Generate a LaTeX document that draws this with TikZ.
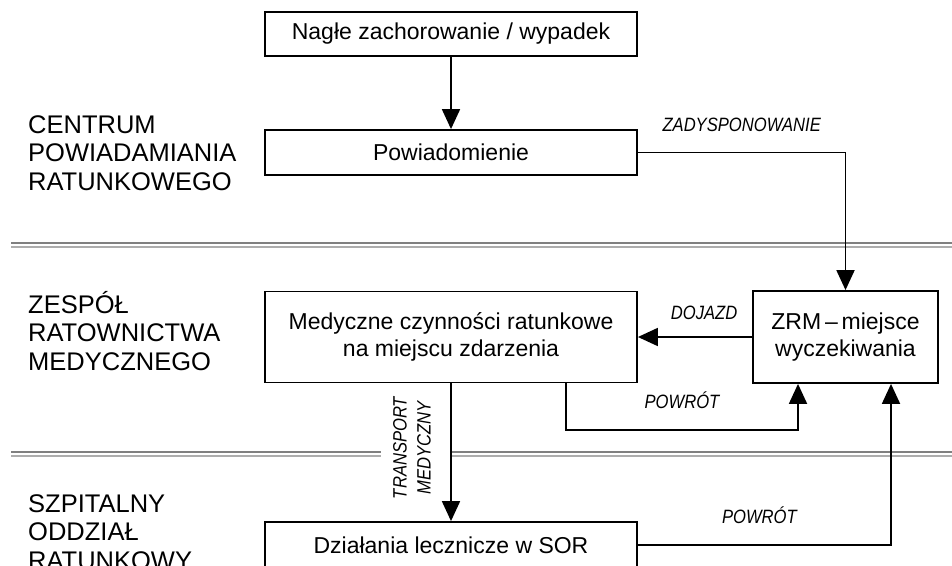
\documentclass[tikz,border=0pt]{standalone}
\usepackage{fontspec}
\setmainfont{Liberation Sans}
\newfontfamily\narrowfont[FakeStretch=0.86]{Liberation Sans}
\usetikzlibrary{arrows.meta,positioning}

\tikzset{
  box/.style={draw, line width=1.8pt, minimum width=372pt, align=center,
    font=\fontsize{23}{27}\selectfont, inner sep=0pt},
  arr/.style={line width=1.8pt, -{Triangle[length=20pt,width=18pt]}},
  lbl/.style={font=\narrowfont\fontsize{19.3}{24}\selectfont\itshape, align=center},
  side/.style={font=\fontsize{25.5}{28.5}\selectfont, align=left,
    anchor=base west, inner sep=0pt},
  sepdark/.style={line width=1.5pt, black!50},
  seplight/.style={line width=1.5pt, black!32}
}

\begin{document}
\begin{tikzpicture}[x=1pt,y=-1pt]
    \useasboundingbox (0,0) rectangle (952,565);

    % separators between the three levels
    \draw[sepdark] (11,243) -- (952,243);
    \draw[seplight] (11,247) -- (952,247);
    \draw[sepdark] (11,452) -- (381,452);
    \draw[seplight] (11,456) -- (381,456);
    \draw[sepdark] (451,452) -- (952,452);
    \draw[seplight] (451,456) -- (952,456);

    % base anchor sits on the last line
    \node[side] (cprlabel) at (28,190) {CENTRUM\\POWIADAMIANIA\\RATUNKOWEGO};
    \node[side] (zrmlabel) at (28,370) {ZESPÓŁ\\RATOWNICTWA\\MEDYCZNEGO};
    \node[side] (sorlabel) at (28,569) {SZPITALNY\\ODDZIAŁ\\RATUNKOWY};

    \node[box, minimum height=44pt] (nagle) at (451,34) {Nagłe zachorowanie / wypadek};
    \node[box, minimum height=45pt] (powiad) at (451,152.5) {Powiadomienie};
    \node[box, minimum height=91pt] (medyczne) at (451,337) {Medyczne czynności ratunkowe\\na miejscu zdarzenia};
    \node[box, minimum width=185pt, minimum height=92pt] (zrm) at (845.5,337) {ZRM\,–\,miejsce\\wyczekiwania};
    \node[box, minimum height=46pt] (dzialania) at (451,545) {Działania lecznicze w SOR};
    \coordinate (back) at (798,430);

    \draw[arr] (nagle) -- (powiad);
    \draw[arr] (powiad.east) -| (zrm.north) node[lbl, pos=0.25, above=17pt] {ZADYSPONOWANIE};
    \draw[arr] (zrm.west) -- (medyczne.east) node[lbl, pos=0.42, above=13pt] {DOJAZD};
    \draw[arr] ([xshift=115pt]medyczne.south) |- (back) node[lbl, pos=0.75, above=16.7pt] {POWRÓT} -- (back |- zrm.south);
    \draw[arr] (medyczne.south) -- (dzialania.north);
    \node[lbl, rotate=90] (transport) at (412,448) {TRANSPORT\\MEDYCZNY};
    \draw[arr] (dzialania.east) -| ([xshift=45.5pt]zrm.south) node[lbl, pos=0.24, above=16.7pt] {POWRÓT};
\end{tikzpicture}
\end{document}
